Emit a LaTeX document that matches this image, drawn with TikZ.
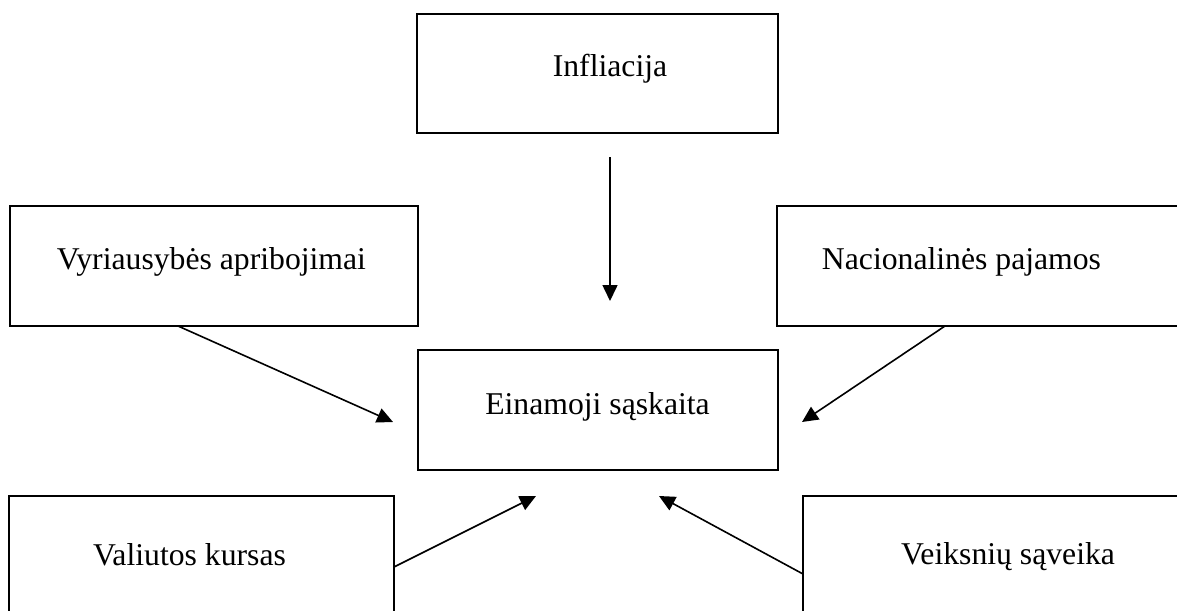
\documentclass[tikz,border=0pt]{standalone}
\usepackage{fontspec}
\setmainfont{Liberation Serif}
\usetikzlibrary{arrows.meta}
\begin{document}
\begin{tikzpicture}[x=1pt,y=-1pt,
  boxnode/.style={draw=black, line width=2pt, inner sep=0pt, outer sep=0pt},
  lbl/.style={anchor=base, inner sep=0pt, font=\fontsize{31.7}{36}\selectfont},
  conn/.style={line width=1.6pt, -{Triangle[length=16pt,width=15pt]}}]
\useasboundingbox (0,0) rectangle (1177,610);
\clip (0,0) rectangle (1177,610);
% boxes
\node[boxnode, minimum width=361pt, minimum height=119pt] (infl) at (597.5,73.5) {};
\node[boxnode, minimum width=408pt, minimum height=120pt] (vyr) at (214,266) {};
\node[boxnode, minimum width=413pt, minimum height=120pt] (nac) at (983.5,266) {};
\node[boxnode, minimum width=360pt, minimum height=120pt] (ein) at (598,410) {};
\node[boxnode, minimum width=385pt, minimum height=129pt] (val) at (201.5,560.5) {};
\node[boxnode, minimum width=387pt, minimum height=129pt] (vei) at (996.5,560.5) {};
% texts
\node[lbl] (inflt) at (610,77) {Infliacija};
\node[lbl] (vyrt) at (211.5,269) {Vyriausybės apribojimai};
\node[lbl] (nact) at (961.5,269) {Nacionalinės pajamos};
\node[lbl] (eint) at (597.5,414) {Einamoji sąskaita};
\node[lbl] (valt) at (189.5,565) {Valiutos kursas};
\node[lbl] (veit) at (1008,564) {Veiksnių sąveika};
% connector end points
\coordinate (s1) at (610,157);
\coordinate (t1) at (610,301);
\coordinate (s2) at (178,326);
\coordinate (t2) at (393,422);
\coordinate (s3) at (945,326);
\coordinate (t3) at (802,422);
\coordinate (s4) at (394,567);
\coordinate (t4) at (536,496);
\coordinate (s5) at (803,574);
\coordinate (t5) at (659,496);
\draw[conn] (s1) -- (t1);
\draw[conn] (s2) -- (t2);
\draw[conn] (s3) -- (t3);
\draw[conn] (s4) -- (t4);
\draw[conn] (s5) -- (t5);
\end{tikzpicture}
\end{document}
